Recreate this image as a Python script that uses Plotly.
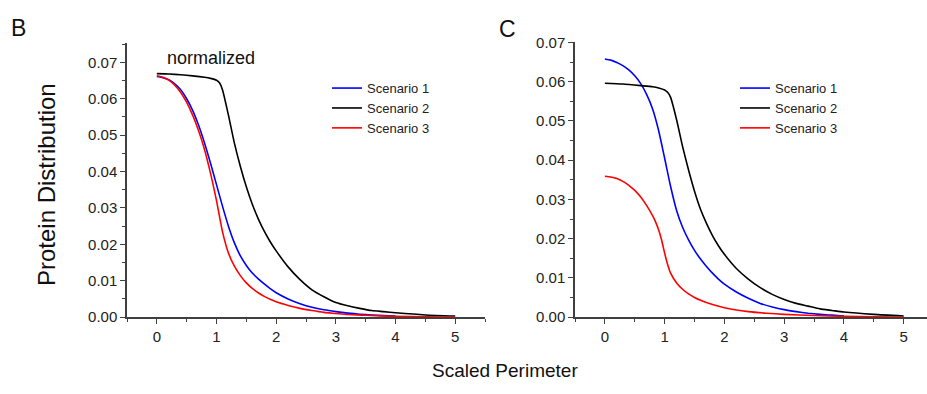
import plotly.graph_objects as go

# ---------------- data ----------------
# Panel B (normalized)
b_s1_x = [0, 0.1, 0.2, 0.3, 0.4, 0.5, 0.6, 0.7, 0.8, 0.9, 1.0, 1.1, 1.2, 1.3, 1.4, 1.5, 1.6, 1.7, 1.8, 1.9,
          2.0, 2.2, 2.4, 2.6, 2.8, 3.0, 3.2, 3.4, 3.6, 3.8, 4.0]
b_s1_y = [0.0661, 0.0658, 0.0652, 0.0641, 0.0625, 0.0600, 0.0568, 0.0527, 0.0478, 0.0423, 0.0364, 0.0305,
          0.0250, 0.0204, 0.0168, 0.0142, 0.0121, 0.0105, 0.0091, 0.0078, 0.0067, 0.0050, 0.0037, 0.0027,
          0.0020, 0.0015, 0.0011, 0.0008, 0.0006, 0.0004, 0.0003]
b_s2_x = [0, 0.2, 0.4, 0.6, 0.8, 0.9, 1.0, 1.05, 1.1, 1.2, 1.3, 1.4, 1.5, 1.6, 1.7, 1.8, 1.9, 2.0, 2.2,
          2.4, 2.6, 2.8, 3.0, 3.2, 3.4, 3.6, 3.8, 4.0, 4.5, 5.0]
b_s2_y = [0.0669, 0.0668, 0.0666, 0.0663, 0.0659, 0.0656, 0.0651, 0.0644, 0.0625, 0.0555, 0.0478, 0.0414,
          0.0358, 0.0310, 0.0270, 0.0236, 0.0207, 0.0182, 0.0138, 0.0103, 0.0075, 0.0056, 0.0040, 0.0031,
          0.0024, 0.0018, 0.0015, 0.0012, 0.0006, 0.0003]
b_s3_x = [0, 0.1, 0.2, 0.3, 0.4, 0.5, 0.6, 0.7, 0.8, 0.9, 1.0, 1.1, 1.2, 1.3, 1.4, 1.5, 1.6, 1.7, 1.8, 1.9,
          2.0, 2.2, 2.4, 2.6, 2.8, 3.0, 3.2, 3.5, 4.0, 4.5, 5.0]
b_s3_y = [0.0663, 0.0659, 0.0651, 0.0637, 0.0617, 0.0590, 0.0555, 0.0512, 0.0460, 0.0395, 0.0320, 0.0235,
          0.0176, 0.0140, 0.0114, 0.0094, 0.0079, 0.0067, 0.0057, 0.0049, 0.0042, 0.0032, 0.0024, 0.0018,
          0.0013, 0.0010, 0.0007, 0.0005, 0.0002, 0.0001, 0.0000]

# Panel C
c_s1_x = [0, 0.1, 0.2, 0.3, 0.4, 0.5, 0.6, 0.7, 0.8, 0.9, 1.0, 1.1, 1.2, 1.3, 1.4, 1.5, 1.6, 1.7, 1.8, 1.9,
          2.0, 2.2, 2.4, 2.6, 2.8, 3.0, 3.2, 3.4, 3.6, 3.8, 4.0]
c_s1_y = [0.0658, 0.0655, 0.0649, 0.0641, 0.0630, 0.0615, 0.0595, 0.0567, 0.0530, 0.0475, 0.0405, 0.0333,
          0.0272, 0.0229, 0.0197, 0.0170, 0.0148, 0.0129, 0.0112, 0.0097, 0.0084, 0.0064, 0.0048, 0.0035,
          0.0026, 0.0019, 0.0014, 0.0010, 0.0007, 0.0005, 0.0003]
c_s2_x = [0, 0.3, 0.6, 0.8, 0.9, 1.0, 1.05, 1.1, 1.2, 1.3, 1.4, 1.5, 1.6, 1.7, 1.8, 1.9, 2.0, 2.2, 2.4,
          2.6, 2.8, 3.0, 3.2, 3.4, 3.6, 3.8, 4.0, 4.5, 5.0]
c_s2_y = [0.0596, 0.0594, 0.0590, 0.0587, 0.0584, 0.0579, 0.0573, 0.0560, 0.0503, 0.0435, 0.0375, 0.0321,
          0.0275, 0.0239, 0.0208, 0.0182, 0.0160, 0.0124, 0.0097, 0.0075, 0.0058, 0.0045, 0.0035, 0.0028,
          0.0021, 0.0017, 0.0013, 0.0007, 0.0003]
c_s3_x = [0, 0.1, 0.2, 0.3, 0.4, 0.5, 0.6, 0.7, 0.8, 0.85, 0.9, 0.95, 1.0, 1.05, 1.1, 1.2, 1.3, 1.4, 1.5,
          1.6, 1.8, 2.0, 2.2, 2.4, 2.7, 3.0, 3.5, 4.0, 4.5, 5.0]
c_s3_y = [0.0359, 0.0357, 0.0353, 0.0346, 0.0336, 0.0323, 0.0306, 0.0284, 0.0258, 0.0242, 0.0222, 0.0196,
          0.0163, 0.0134, 0.0112, 0.0087, 0.0071, 0.0059, 0.0050, 0.0043, 0.0032, 0.0024, 0.0018, 0.0014,
          0.0010, 0.0007, 0.0004, 0.0002, 0.0001, 0.0000]

series_names = ["Scenario 1", "Scenario 2", "Scenario 3"]
series_colors = ["#0000FF", "#000000", "#FF0000"]
y_ticks = [0.00, 0.01, 0.02, 0.03, 0.04, 0.05, 0.06, 0.07]
x_ticks = [0, 1, 2, 3, 4, 5]

# ---------------- figure ----------------
W, H = 927, 394
FONT = "Liberation Sans, Arial"
fig = go.Figure()

panel_b = [(b_s1_x, b_s1_y), (b_s2_x, b_s2_y), (b_s3_x, b_s3_y)]
panel_c = [(c_s1_x, c_s1_y), (c_s2_x, c_s2_y), (c_s3_x, c_s3_y)]

for (xs, ys), name, col in zip(panel_b, series_names, series_colors):
    fig.add_trace(go.Scatter(x=xs, y=ys, mode="lines", name=name, legend="legend",
                             line=dict(color=col, width=1.6, shape="spline", smoothing=0.6),
                             xaxis="x", yaxis="y"))
for (xs, ys), name, col in zip(panel_c, series_names, series_colors):
    fig.add_trace(go.Scatter(x=xs, y=ys, mode="lines", name=name, legend="legend2",
                             line=dict(color=col, width=1.6, shape="spline", smoothing=0.6),
                             xaxis="x2", yaxis="y2"))

def px_x(p):
    return p / W

def px_y(p):
    return 1 - p / H

axis_common = dict(showline=True, linecolor="#404040", linewidth=1.5, ticks="outside",
                   ticklen=5, tickwidth=1.3, tickcolor="#404040", showgrid=False, zeroline=False,
                   tickfont=dict(family=FONT, size=15, color="#222222"),
                   minor=dict(ticks="outside", ticklen=3, tickwidth=1.2, tickcolor="#404040", showgrid=False))

legend_common = dict(xanchor="left", yanchor="top", bgcolor="rgba(0,0,0,0)",
                     font=dict(family=FONT, size=13, color="#222222"),
                     tracegroupgap=0, itemwidth=30)

fig.update_layout(
    width=W, height=H, margin=dict(l=0, r=0, t=0, b=0),
    paper_bgcolor="white", plot_bgcolor="white",
    font=dict(family=FONT, color="#222222"),
    xaxis=dict(domain=[px_x(127), px_x(485)], range=[-0.5, 5.5], tickvals=x_ticks,
               minor_dtick=0.5, anchor="y", **axis_common),
    yaxis=dict(domain=[px_y(322), px_y(36)], range=[0, 0.0752], tickvals=y_ticks,
               tickformat=".2f", minor_dtick=0.005, anchor="x", **axis_common),
    xaxis2=dict(domain=[px_x(575), 1.0], range=[-0.5, 5.39], tickvals=x_ticks,
                minor_dtick=0.5, anchor="y2", **axis_common),
    yaxis2=dict(domain=[px_y(322), px_y(35)], range=[0, 0.07], tickvals=y_ticks,
                tickformat=".2f", minor_dtick=0.005, anchor="x2", **axis_common),
    legend=dict(x=px_x(327), y=px_y(67), **legend_common),
    legend2=dict(x=px_x(735), y=px_y(67), **legend_common),
)

fig.add_annotation(text="B", x=px_x(9), y=px_y(20), xref="paper", yref="paper",
                   xanchor="left", yanchor="middle", showarrow=False,
                   font=dict(family=FONT, size=23, color="#111111"))
fig.add_annotation(text="C", x=px_x(497), y=px_y(21), xref="paper", yref="paper",
                   xanchor="left", yanchor="middle", showarrow=False,
                   font=dict(family=FONT, size=23, color="#111111"))
fig.add_annotation(text="normalized", x=px_x(211), y=px_y(51), xref="paper", yref="paper",
                   xanchor="center", yanchor="middle", showarrow=False,
                   font=dict(family=FONT, size=18, color="#111111"))
fig.add_annotation(text="Protein Distribution", x=px_x(46), y=px_y(184), xref="paper", yref="paper",
                   xanchor="center", yanchor="middle", showarrow=False, textangle=-90,
                   font=dict(family=FONT, size=24, color="#111111"))
fig.add_annotation(text="Scaled Perimeter", x=px_x(505), y=px_y(378), xref="paper", yref="paper",
                   xanchor="center", yanchor="middle", showarrow=False,
                   font=dict(family=FONT, size=19, color="#111111"))

fig.write_html("out.html")
